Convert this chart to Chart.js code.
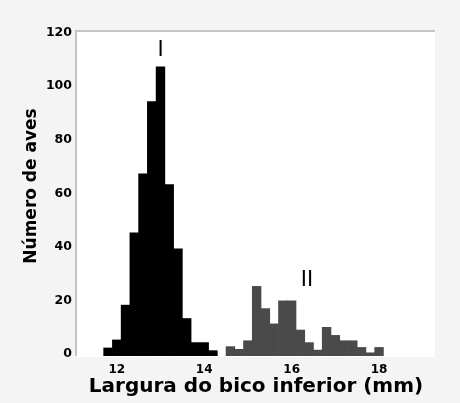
<!DOCTYPE html>
<html>
<head>
<meta charset="utf-8">
<script src="https://cdn.jsdelivr.net/npm/chart.js@4/dist/chart.umd.min.js"></script>
<style>
  html, body { margin: 0; padding: 0; background: #f4f4f4; }
  #wrap { width: 460px; height: 403px; }
</style>
</head>
<body>
<div id="wrap"><canvas id="chart" width="460" height="403"></canvas></div>
<script>
// bin centres (mm), 0.2 mm wide
const binsI = [11.8, 12.0, 12.2, 12.4, 12.6, 12.8, 13.0, 13.2, 13.4, 13.6, 13.8, 14.0, 14.2];
const countsI = [3, 6, 19, 46, 68, 95, 108, 64, 40, 14, 5, 5, 2];
const binsII = [14.6, 14.8, 15.0, 15.2, 15.4, 15.6, 15.8, 16.0, 16.2, 16.4, 16.6, 16.8, 17.0, 17.2, 17.4, 17.6, 17.8, 18.0];
const countsII = [3.5, 2.5, 5.7, 26, 17.7, 12, 20.6, 20.6, 9.7, 5, 2.2, 10.7, 7.7, 5.7, 5.7, 3.2, 1.2, 3.2];
const xTicks = [12, 14, 16, 18];
const yTicks = [0, 20, 40, 60, 80, 100, 120];
const groupNames = ['I', 'II'];
const xTitle = 'Largura do bico inferior (mm)';
const yTitle = 'Número de aves';

const toPoints = (xs, ys) => xs.map((x, i) => ({ x: x, y: ys[i] }));

// page background, white plot, grey frame lines, titles and group labels
const decor = {
  id: 'decor',
  beforeDraw(chart) {
    const { ctx, chartArea: a } = chart;
    ctx.save();
    ctx.fillStyle = '#f4f4f4';
    ctx.fillRect(0, 0, chart.width, chart.height);
    ctx.fillStyle = '#ffffff';
    ctx.fillRect(a.left - 1, a.top - 1, a.right - a.left + 1, a.bottom - a.top + 2);
    ctx.strokeStyle = '#c4c4c4';
    ctx.lineWidth = 2;
    ctx.beginPath();
    ctx.moveTo(a.left - 1, a.bottom);
    ctx.lineTo(a.left - 1, a.top - 1);
    ctx.lineTo(a.right, a.top - 1);
    ctx.stroke();
    ctx.restore();
  },
  afterDraw(chart) {
    const { ctx, scales: { x, y } } = chart;
    ctx.save();
    ctx.fillStyle = '#000';
    ctx.textAlign = 'center';
    ctx.textBaseline = 'alphabetic';
    ctx.font = 'bold 20px "DejaVu Sans"';
    ctx.fillText(xTitle, 256, 392);
    ctx.save();
    ctx.translate(36, 186);
    ctx.rotate(-Math.PI / 2);
    ctx.font = 'bold 17px "DejaVu Sans"';
    ctx.fillText(yTitle, 0, 0);
    ctx.restore();
    ctx.font = '21px "DejaVu Sans"';
    ctx.fillText(groupNames[0], x.getPixelForValue(13.0), y.getPixelForValue(112));
    ctx.fillText(groupNames[1], x.getPixelForValue(16.35), y.getPixelForValue(26));
    ctx.restore();
  }
};

new Chart(document.getElementById('chart'), {
  type: 'bar',
  data: {
    datasets: [
      { label: 'I', data: toPoints(binsI, countsI), backgroundColor: '#000000' },
      { label: 'II', data: toPoints(binsII, countsII), backgroundColor: '#4a4a4a' },
    ],
  },
  options: {
    responsive: false,
    animation: false,
    events: [],
    grouped: false,
    barPercentage: 1,
    categoryPercentage: 1,
    borderWidth: 0,
    layout: { padding: { left: 0, right: 25, top: 32, bottom: 0 } },
    plugins: { legend: { display: false }, tooltip: { enabled: false } },
    scales: {
      x: {
        type: 'linear',
        offset: false,
        min: 11.09,
        max: 19.28,
        grid: { display: false, drawTicks: false, offset: false },
        border: { display: false },
        afterBuildTicks: (s) => { s.ticks = xTicks.map(v => ({ value: v })); },
        afterFit: (s) => { s.height = 47; },
        ticks: {
          padding: 7,
          color: '#000',
          font: { family: 'DejaVu Sans', weight: 'bold', size: 12 },
          maxRotation: 0,
        },
      },
      y: {
        min: 0,
        max: 121,
        grid: { display: false, drawTicks: false },
        border: { display: false },
        afterBuildTicks: (s) => { s.ticks = yTicks.map(v => ({ value: v })); },
        afterFit: (s) => { s.width = 77; },
        ticks: {
          padding: 5,
          labelOffset: -2,
          color: '#000',
          font: { family: 'DejaVu Sans', weight: 'bold', size: 12.5 },
        },
      },
    },
  },
  plugins: [decor],
});
</script>
</body>
</html>
